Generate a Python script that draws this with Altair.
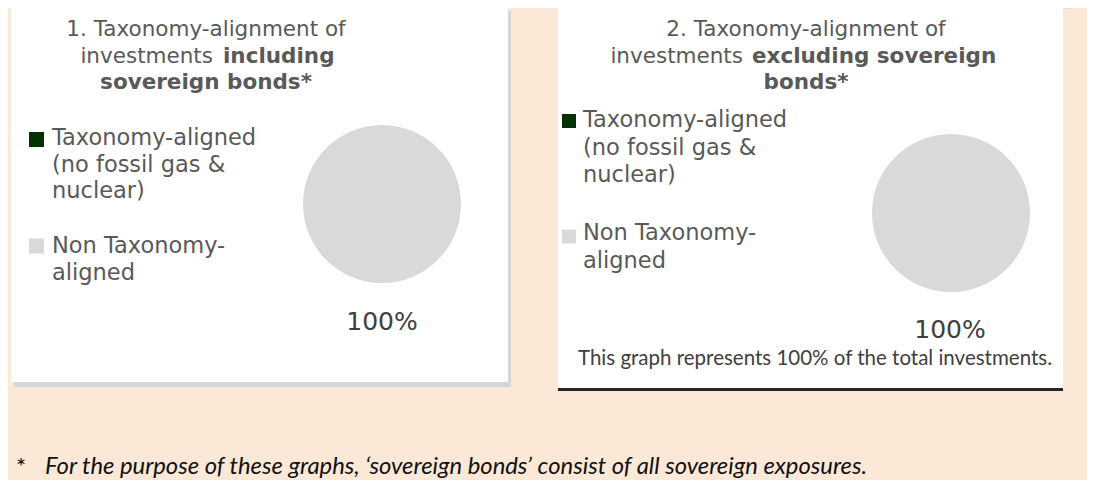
import altair as alt
import pandas as pd

# ---- data ----
categories = ["Taxonomy-aligned (no fossil gas & nuclear)", "Non Taxonomy-aligned"]
incl_values = [0, 100]
excl_values = [0, 100]
colors = ["#003300", "#D9D9D9"]
legend_text_1 = ["Taxonomy-aligned\n(no fossil gas &\nnuclear)", "Non Taxonomy-\naligned"]
legend_text_2 = ["\u00a0\u00a0Taxonomy-aligned\n(no fossil gas &\nnuclear)", "Non Taxonomy-\naligned"]
pie_labels = ["100%", "100%"]
title_1 = ["1. Taxonomy-alignment of", "investments", "including", "sovereign bonds*"]
title_2 = ["2. Taxonomy-alignment of", "investments", "excluding sovereign", "bonds*"]
note_2 = "This graph represents 100% of the total investments."
footnote = ["*", "For the purpose of these graphs, \u2018sovereign bonds\u2019 consist of all sovereign exposures."]

BG = "#FBE8D7"
TXT = "#595959"
color_scale = alt.Scale(domain=categories, range=colors)

one = pd.DataFrame({"a": [0]})


def rect(x, x2, y, y2, color):
    return alt.Chart(one).mark_rect(color=color).encode(
        x=alt.value(x), x2=alt.value(x2), y=alt.value(y), y2=alt.value(y2))


def txt(text, x, y, size=21.5, bold=False, align="left", color=TXT,
        font="DejaVu Sans", italic=False, lh=27):
    return alt.Chart(pd.DataFrame({"t": [text]})).mark_text(
        align=align, baseline="alphabetic", font=font, fontSize=size,
        fontWeight="bold" if bold else "normal",
        fontStyle="italic" if italic else "normal",
        color=color, lineBreak="\n", lineHeight=lh,
    ).encode(x=alt.value(x), y=alt.value(y), text="t:N")


def pie(values, cx, cy, r):
    df = pd.DataFrame({"category": categories, "value": values})
    return alt.Chart(df).mark_arc(radius=r, stroke=None).encode(
        theta=alt.Theta("value:Q", stack=True),
        color=alt.Color("category:N", scale=color_scale, legend=None),
        order=alt.Order("order:Q"),
        x=alt.value(cx), y=alt.value(cy),
    ).transform_calculate(order="indexof(%s, datum.category)" % str(categories))


def legend_square(i, x, y, size):
    df = pd.DataFrame({"category": [categories[i]]})
    return alt.Chart(df).mark_square(size=size, opacity=1, filled=True).encode(
        x=alt.value(x), y=alt.value(y),
        color=alt.Color("category:N", scale=color_scale, legend=None))


layers = [
    # panel 1 (shadow + white card)
    rect(6, 503, 3, 379, "#D6D6D6"),
    rect(3, 500, 0, 374, "#FFFFFF"),
    # panel 2
    rect(550, 1055, 0, 380, "#FFFFFF"),
    rect(550, 1055, 380, 383, "#262626"),
    rect(1055, 1066, 0, 1, "#E0E0E0"),
    # pies
    pie(incl_values, 374, 196, 79),
    pie(excl_values, 943, 205, 79),
    # titles panel 1
    txt(title_1[0], 198, 28, align="center"),
    txt(title_1[1], 205, 55, align="right"),
    txt(title_1[2], 215, 55, bold=True),
    txt(title_1[3], 198, 81, bold=True, align="center"),
    # titles panel 2
    txt(title_2[0], 798, 28, align="center"),
    txt(title_2[1], 735, 55, align="right"),
    txt(title_2[2], 744, 55, bold=True),
    txt(title_2[3], 798, 81, bold=True, align="center"),
    # legend panel 1
    legend_square(0, 28.5, 131.5, 225),
    legend_square(1, 28.5, 238, 225),
    txt(legend_text_1[0], 44, 137, size=22.5, lh=26.5),
    txt(legend_text_1[1], 44, 245, size=22.5, lh=26.5),
    # legend panel 2
    legend_square(0, 561, 113, 196),
    legend_square(1, 561, 228.5, 196),
    txt(legend_text_2[0], 575, 119, size=22.5, lh=27.5),
    txt(legend_text_2[1], 575, 232, size=22.5, lh=27.5),
    # pie value labels
    txt(pie_labels[0], 374, 322, size=25, align="center", color="#404040"),
    txt(pie_labels[1], 942, 330, size=25, align="center", color="#404040"),
    txt(note_2, 807, 357, size=20.5, align="center", color="#404040", font="Lato"),
    # footnote
    txt(footnote[0], 8, 467, size=24, color="#111111", font="Lato"),
    txt(footnote[1], 37, 466, size=23.8, color="#111111", font="Lato", italic=True),
]

chart = alt.layer(*layers).properties(
    width=1079, height=472, padding=0, autosize="none", background=BG
).configure_view(stroke=None)

chart.save("out.html", embed_options={"renderer": "svg", "actions": False})
